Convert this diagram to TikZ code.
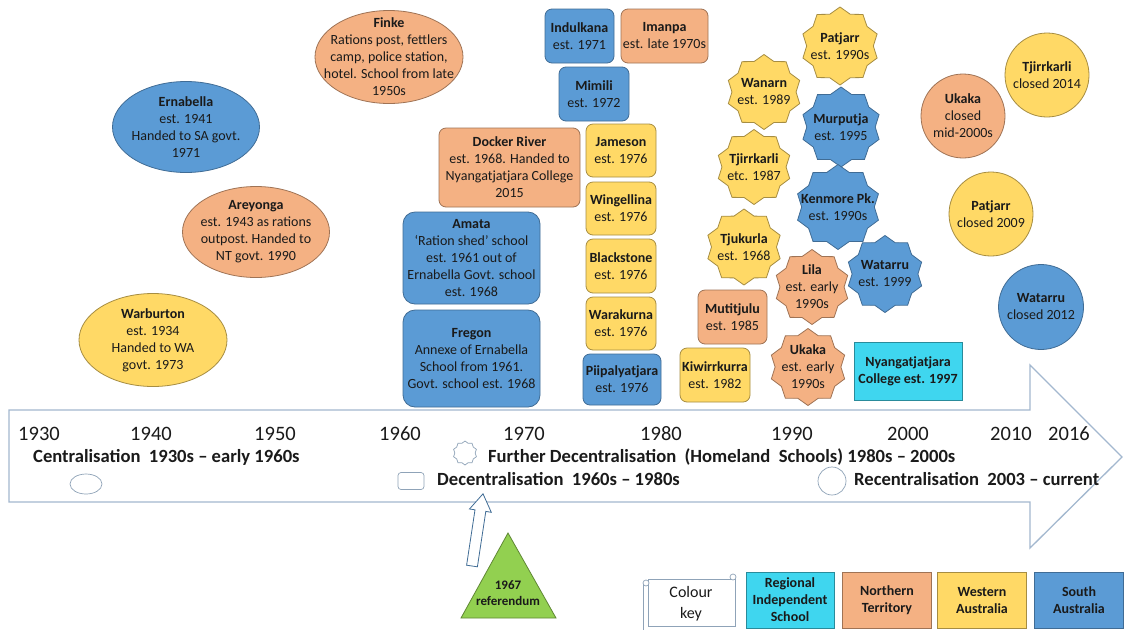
\documentclass[tikz,border=0pt]{standalone}
\usepackage{fontspec}
\setmainfont{Carlito}
\usetikzlibrary{shapes.geometric}
\definecolor{bluF}{HTML}{5B9BD5}
\definecolor{oraF}{HTML}{F4B183}
\definecolor{yelF}{HTML}{FFD966}
\definecolor{cyaF}{HTML}{3FD6EF}
\definecolor{grnF}{HTML}{92D050}
\definecolor{arrD}{HTML}{A3B8CF}
\definecolor{mrkD}{HTML}{8FA3B8}
\definecolor{ink}{HTML}{1A1A1A}
\begin{document}
\begin{tikzpicture}[x=1pt,y=-1pt,
  bl/.style={fill=bluF,draw=bluF!70!black},
  or/.style={fill=oraF,draw=oraF!65!black},
  ye/.style={fill=yelF,draw=yelF!65!black},
  cy/.style={fill=cyaF,draw=cyaF!65!black},
  txt/.style={text=ink,align=center,inner sep=0,font=\fontsize{14}{17}\selectfont},
  rbox/.style={rectangle,rounded corners=7pt,line width=0.8pt,txt},
  sqbox/.style={rectangle,line width=0.8pt,txt},
  ellbox/.style={ellipse,line width=0.8pt,inner sep=0},
  circbox/.style={circle,line width=0.8pt,inner sep=0},
  starbox/.style={star,star points=10,star point ratio=1.17,line width=0.8pt,inner sep=0},
  yr/.style={text=ink,inner sep=0,font=\fontsize{20.5}{23}\selectfont},
  phase/.style={text=ink,inner sep=0,anchor=west,font=\bfseries\fontsize{18.6}{22}\selectfont},
  marker/.style={draw=mrkD,fill=white,line width=0.7pt,inner sep=0},
  keybox/.style={rectangle,line width=0.8pt,text=ink,align=center,inner sep=0,
    minimum width=88,minimum height=56,font=\bfseries\fontsize{14}{17}\selectfont}
]
\useasboundingbox (0,0) rectangle (1124,630);
\fill[white] (0,0) rectangle (1124,630);

% big timeline arrow
\draw[draw=arrD,fill=white,line width=1.3pt,line join=miter]
  (9,410) -- (1030,410) -- (1030,365) -- (1122,457) -- (1030,548) -- (1030,502) -- (9,502) -- cycle;

% years
\node[yr] (y1930) at (39,434) {1930};
\node[yr] (y1940) at (151,434) {1940};
\node[yr] (y1950) at (275,434) {1950};
\node[yr] (y1960) at (400,434) {1960};
\node[yr] (y1970) at (524,434) {1970};
\node[yr] (y1980) at (661,434) {1980};
\node[yr] (y1990) at (792,434) {1990};
\node[yr] (y2000) at (908,434) {2000};
\node[yr] (y2010) at (1011,434) {2010};
\node[yr] (y2016) at (1069,434) {2016};

% phases
\node[phase] (phC) at (33,457) {Centralisation\ \ 1930s – early 1960s};
\node[marker,ellipse,minimum width=32,minimum height=20] (mkC) at (86,484) {};
\node[marker,star,star points=10,star point ratio=1.18,minimum size=24] (mkF) at (465,453) {};
\node[phase] (phF) at (488,457) {Further Decentralisation\ \ (Homeland\ \ Schools) 1980s – 2000s};
\node[marker,rectangle,rounded corners=3pt,minimum width=26,minimum height=17] (mkD) at (411,481) {};
\node[phase] (phD) at (437,479) {Decentralisation\ \ 1960s – 1980s};
\node[marker,circle,minimum size=28] (mkR) at (832,481) {};
\node[phase] (phR) at (854,479) {Recentralisation\ \ 2003 – current};

% ellipses
\node[ellbox,or,minimum width=148,minimum height=93] (finke) at (389,57) {};
\node[txt] (finkeT) at (finke) {\textbf{Finke}\\Rations post, fettlers\\camp, police station,\\hotel. School from late\\1950s};
\node[ellbox,bl,minimum width=147,minimum height=91] (ernab) at (186,127) {};
\node[txt] (ernabT) at (ernab) {\textbf{Ernabella}\\est. 1941\\Handed to SA govt.\\1971};
\node[ellbox,or,minimum width=147,minimum height=91] (areyo) at (256,232) {};
\node[txt] (areyoT) at (areyo) {\textbf{Areyonga}\\est. 1943 as rations\\outpost.\ Handed to\\NT govt. 1990};
\node[ellbox,ye,minimum width=148,minimum height=93] (warbu) at (153,340) {};
\node[txt] (warbuT) at (warbu) {\textbf{Warburton}\\est. 1934\\Handed to WA\\govt. 1973};

% rounded boxes
\node[rbox,bl,minimum width=69,minimum height=54] (indul) at (579.5,36) {\textbf{Indulkana}\\est. 1971};
\node[rbox,or,minimum width=87,minimum height=54] (imanpa) at (664.5,36) {\textbf{Imanpa}\\est. late 1970s};
\node[rbox,bl,minimum width=70,minimum height=54] (mimili) at (594,94) {\textbf{Mimili}\\est. 1972};
\node[rbox,or,minimum width=141,minimum height=79] (docker) at (509.5,167.5) {\textbf{Docker River}\\est. 1968. Handed to\\Nyangatjatjara College\\2015};
\node[rbox,ye,minimum width=70,minimum height=53] (jameson) at (621,150.5) {\textbf{Jameson}\\est. 1976};
\node[rbox,ye,minimum width=70,minimum height=53] (wingel) at (621,208.5) {\textbf{Wingellina}\\est. 1976};
\node[rbox,ye,minimum width=70,minimum height=54] (blacks) at (621,266) {\textbf{Blackstone}\\est. 1976};
\node[rbox,ye,minimum width=70,minimum height=53] (warak) at (621,323.5) {\textbf{Warakurna}\\est. 1976};
\node[rbox,bl,minimum width=78,minimum height=51] (piipa) at (622,379.5) {\textbf{Piipalyatjara}\\est. 1976};
\node[rbox,bl,rounded corners=12pt,minimum width=137,minimum height=92] (amata) at (471.5,258) {\textbf{Amata}\\‘Ration shed’ school\\est. 1961 out of\\Ernabella Govt. school\\est. 1968};
\node[rbox,bl,rounded corners=12pt,minimum width=137,minimum height=97] (fregon) at (471.5,358.5) {\textbf{Fregon}\\Annexe of Ernabella\\School from 1961.\\Govt. school est. 1968};
\node[rbox,or,minimum width=69,minimum height=54] (mutit) at (732.5,317) {\textbf{Mutitjulu}\\est. 1985};
\node[rbox,ye,minimum width=70,minimum height=54] (kiwir) at (715,375) {\textbf{Kiwirrkurra}\\est. 1982};
\node[sqbox,cy,minimum width=108,minimum height=58] (nyang) at (908,371) {\textbf{Nyangatjatjara}\\\textbf{College est. 1997}};

% stars
\node[starbox,ye,minimum size=78] (patjS) at (840,46) {};
\node[txt] (patjST) at (patjS) {\textbf{Patjarr}\\est. 1990s};
\node[starbox,ye,minimum size=75] (wanS) at (764,92) {};
\node[txt] (wanST) at (wanS) {\textbf{Wanarn}\\est. 1989};
\node[starbox,bl,minimum size=80] (murS) at (841,127) {};
\node[txt] (murST) at (murS) {\textbf{Murputja}\\est. 1995};
\node[starbox,ye,minimum size=75] (tjirS) at (754,167) {};
\node[txt] (tjirST) at (tjirS) {\textbf{Tjirrkarli}\\etc. 1987};
\node[starbox,bl,minimum size=85] (kenS) at (838,207) {};
\node[txt] (kenST) at (kenS) {\textbf{Kenmore Pk.}\\est. 1990s};
\node[starbox,ye,minimum size=76] (tjukS) at (744,247) {};
\node[txt] (tjukST) at (tjukS) {\textbf{Tjukurla}\\est. 1968};
\node[starbox,bl,minimum size=77] (watS) at (885,274) {};
\node[txt] (watST) at (watS) {\textbf{Watarru}\\est. 1999};
\node[starbox,or,minimum size=75] (lilaS) at (812,287) {};
\node[txt] (lilaST) at (lilaS) {\textbf{Lila}\\est. early\\1990s};
\node[starbox,or,minimum size=77] (ukaS) at (808,367) {};
\node[txt] (ukaST) at (ukaS) {\textbf{Ukaka}\\est. early\\1990s};

% circles
\node[circbox,ye,minimum size=84] (tjirC) at (1047,75) {};
\node[txt] (tjirCT) at (tjirC) {\textbf{Tjirrkarli}\\closed 2014};
\node[circbox,or,minimum size=84] (ukaC) at (963,116) {};
\node[txt] (ukaCT) at (ukaC) {\textbf{Ukaka}\\closed\\mid-2000s};
\node[circbox,ye,minimum size=84] (patjC) at (991,214) {};
\node[txt] (patjCT) at (patjC) {\textbf{Patjarr}\\closed 2009};
\node[circbox,bl,minimum size=85] (watC) at (1041,307) {};
\node[txt] (watCT) at (watC) {\textbf{Watarru}\\closed 2012};

% referendum
\draw[fill=grnF,draw=grnF!65!black,line width=0.8pt] (508,533) -- (556,618) -- (461,618) -- cycle;
\node[text=ink,align=center,inner sep=0,font=\bfseries\fontsize{13}{16}\selectfont] (refT) at (508,593) {1967\\referendum};
\draw[draw=bluF!70!black,fill=white,line width=0.8pt,line join=miter]
  (466.6,565.2) -- (475,509.8) -- (469.5,509) -- (483,493.8) -- (491.3,512.3) -- (485.8,511.4) -- (477.4,566.8) -- cycle;

% colour key scroll
\draw[draw=mrkD,fill=white,line width=0.7pt] (648,579) rectangle (735,626);
\draw[draw=mrkD,line width=0.7pt] (648,583) -- (643,583) -- (643,630);
\draw[draw=mrkD,fill=white,line width=0.7pt] (646,583) circle[radius=3];
\draw[draw=mrkD,fill=white,line width=0.7pt] (733,577) circle[radius=3];
\node[text=ink,align=center,inner sep=0,font=\fontsize{16}{21}\selectfont] (keyC) at (691,604) {Colour\\key};

\node[keybox,cy] (keyR) at (790,600) {Regional\\Independent\\School};
\node[keybox,or,minimum width=89] (keyN) at (887,600) {Northern\\Territory};
\node[keybox,ye,minimum width=89] (keyW) at (982,600) {Western\\Australia};
\node[keybox,bl,minimum width=89] (keyS) at (1079,600) {South\\Australia};
\end{tikzpicture}
\end{document}
